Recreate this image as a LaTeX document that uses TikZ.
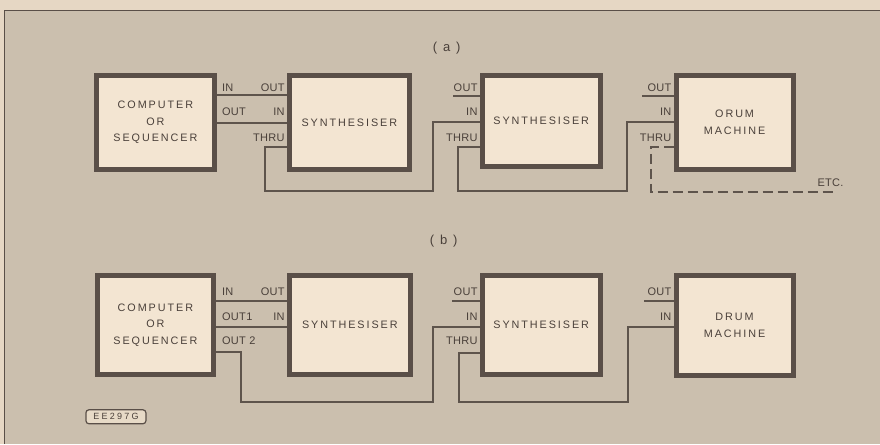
\documentclass[tikz,border=0pt]{standalone}
\usepackage{fontspec}
\setmainfont{Liberation Sans}
\newfontfamily\boxfont[LetterSpace=18]{Liberation Sans}
\newfontfamily\portfont[LetterSpace=3]{Liberation Sans}
\newfontfamily\titlefont[LetterSpace=45]{Liberation Sans}
\newfontfamily\tagfont[LetterSpace=25]{Liberation Sans}
\definecolor{pagecol}{HTML}{E6D7C4}
\definecolor{bgcol}{HTML}{CBBFAE}
\definecolor{boxfill}{HTML}{F3E5D2}
\definecolor{boxedge}{HTML}{5A4F48}
\definecolor{wirecol}{HTML}{5E544C}
\definecolor{ink}{HTML}{4A403A}
\begin{document}
\begin{tikzpicture}[x=1pt,y=-1pt,
  box/.style={draw=boxedge, line width=5pt, fill=boxfill, inner sep=0pt, align=center,
    font=\boxfont\fontsize{10.8}{16.5}\selectfont, text=ink},
  wire/.style={draw=wirecol, line width=2pt},
  port/.style={font=\portfont\fontsize{11}{12}\selectfont, text=ink, inner sep=0pt},
  title/.style={font=\titlefont\fontsize{13}{14}\selectfont, text=ink, inner sep=0pt},
  dashwire/.style={wire, dash pattern=on 10pt off 5pt}]
\fill[pagecol] (0,0) rectangle (880,444);
\fill[bgcol] (5,11) rectangle (880,444);
\draw[boxedge, line width=1pt] (5,444) -- (5,11) -- (880,11);
\useasboundingbox (0,0) rectangle (880,444);

% ---------------- (a) ----------------
\node[title] (ta) at (447,48) {(a)};
\node[box, minimum width=118pt, minimum height=94pt] (ca) at (155.5,122.5) {COMPUTER\\OR\\SEQUENCER};
\node[box, minimum width=120pt, minimum height=94pt] (s1a) at (349.5,122.5) {SYNTHESISER};
\node[box, minimum width=118pt, minimum height=91pt] (s2a) at (541.5,121) {SYNTHESISER};
\node[box, minimum width=117pt, minimum height=94pt] (da) at (735,122.5) {ORUM\\MACHINE};

\node[port, anchor=west] (pa1) at (222,87.5) {IN};
\node[port, anchor=east] (pa2) at (285,87.5) {OUT};
\node[port, anchor=west] (pa3) at (222,111.5) {OUT};
\node[port, anchor=east] (pa4) at (285,111.5) {IN};
\node[port, anchor=east] (pa5) at (285,137.5) {THRU};
\node[port, anchor=east] (pa6) at (478,87.5) {OUT};
\node[port, anchor=east] (pa7) at (478,111.5) {IN};
\node[port, anchor=east] (pa8) at (478,137.5) {THRU};
\node[port, anchor=east] (pa9) at (672,87.5) {OUT};
\node[port, anchor=east] (pa10) at (672,111.5) {IN};
\node[port, anchor=east] (pa11) at (672,137.5) {THRU};
\node[port, anchor=center] (etc) at (831,183) {ETC.};

\draw[wire] (ca.east |- 0,95) -- (s1a.west |- 0,95);
\draw[wire] (ca.east |- 0,123) -- (s1a.west |- 0,123);
\draw[wire] (s1a.west |- 0,147) -| (265,191) -| (433,122) -- (s2a.west |- 0,122);
\draw[wire] (s2a.west |- 0,147) -| (458,191) -| (627,122) -- (da.west |- 0,122);
\coordinate (sa2) at (453,96);
\coordinate (sa3) at (642,96);
\draw[wire] (s2a.west |- sa2) -- (sa2);
\draw[wire] (da.west |- sa3) -- (sa3);
\coordinate (etcend) at (836,192);
\draw[dashwire] (da.west |- 0,147) -| (651,192) -- (etcend);

% ---------------- (b) ----------------
\node[title] (tb) at (444,241) {(b)};
\node[box, minimum width=116pt, minimum height=99pt] (cb) at (155.5,325) {COMPUTER\\OR\\SEQUENCER};
\node[box, minimum width=121pt, minimum height=99pt] (s1b) at (350,325) {SYNTHESISER};
\node[box, minimum width=118pt, minimum height=99pt] (s2b) at (541.5,325) {SYNTHESISER};
\node[box, minimum width=117pt, minimum height=100pt] (db) at (735,325.5) {DRUM\\MACHINE};

\node[port, anchor=west] (pb1) at (222,292) {IN};
\node[port, anchor=east] (pb2) at (285,292) {OUT};
\node[port, anchor=west] (pb3) at (222,317) {OUT1};
\node[port, anchor=east] (pb4) at (285,317) {IN};
\node[port, anchor=west] (pb5) at (222,341) {OUT 2};
\node[port, anchor=east] (pb6) at (478,292) {OUT};
\node[port, anchor=east] (pb7) at (478,317) {IN};
\node[port, anchor=east] (pb8) at (478,341) {THRU};
\node[port, anchor=east] (pb9) at (672,292) {OUT};
\node[port, anchor=east] (pb10) at (672,317) {IN};

\draw[wire] (cb.east |- 0,301) -- (s1b.west |- 0,301);
\draw[wire] (cb.east |- 0,327) -- (s1b.west |- 0,327);
\draw[wire] (cb.east |- 0,352) -| (241,402) -| (433,327) -- (s2b.west |- 0,327);
\draw[wire] (s2b.west |- 0,353) -| (459,402) -| (628,327) -- (db.west |- 0,327);
\coordinate (sb2) at (452,301);
\coordinate (sb3) at (644,301);
\draw[wire] (s2b.west |- sb2) -- (sb2);
\draw[wire] (db.west |- sb3) -- (sb3);

% label tag
\node[draw=boxedge, line width=1.2pt, rounded corners=3pt, fill=boxfill!70!bgcol,
  minimum width=60pt, minimum height=14pt, inner sep=0pt,
  font=\tagfont\fontsize{9}{10}\selectfont, text=ink] (tag) at (116,417) {EE297G};
\end{tikzpicture}
\end{document}
